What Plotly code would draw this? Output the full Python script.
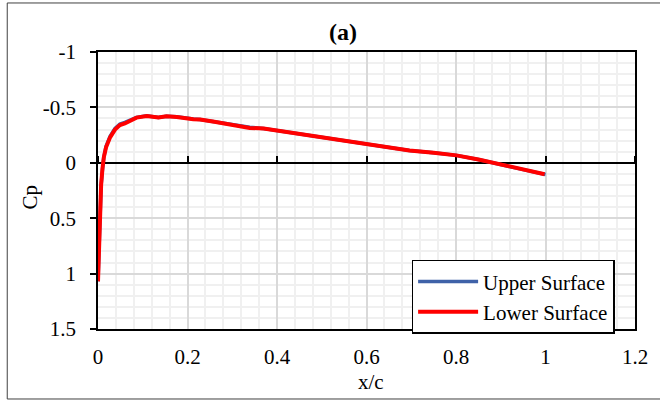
import plotly.graph_objects as go

# ---- data ----
x_upper = [0.0, 0.001, 0.002, 0.004, 0.005, 0.007, 0.010, 0.013, 0.018, 0.027, 0.038, 0.049,
           0.060, 0.071, 0.086, 0.109, 0.135, 0.153, 0.176, 0.213, 0.228, 0.26, 0.302, 0.339,
           0.37, 0.399, 0.451, 0.518, 0.6, 0.696, 0.75, 0.801, 0.85, 0.875, 0.935, 1.0]
cp_upper = [1.07, 0.9, 0.79, 0.49, 0.28, 0.2, 0.06, -0.05, -0.15, -0.24, -0.31, -0.35,
            -0.365, -0.385, -0.41, -0.425, -0.41, -0.42, -0.415, -0.395, -0.39, -0.37, -0.34, -0.32,
            -0.31, -0.293, -0.263, -0.224, -0.173, -0.112, -0.09, -0.067, -0.03, -0.006, 0.048, 0.105]
x_lower = [0.0, 0.001, 0.002, 0.004, 0.005, 0.007, 0.010, 0.013, 0.018, 0.027, 0.038, 0.049,
           0.060, 0.071, 0.086, 0.109, 0.135, 0.153, 0.176, 0.213, 0.228, 0.26, 0.302, 0.339,
           0.37, 0.399, 0.451, 0.518, 0.6, 0.696, 0.75, 0.801, 0.85, 0.875, 0.935, 0.998]
cp_lower = [1.07, 0.9, 0.79, 0.49, 0.28, 0.2, 0.05, -0.05, -0.14, -0.23, -0.30, -0.34,
            -0.355, -0.378, -0.408, -0.423, -0.408, -0.42, -0.414, -0.393, -0.39, -0.37, -0.34, -0.315,
            -0.31, -0.293, -0.263, -0.224, -0.173, -0.112, -0.09, -0.067, -0.03, -0.006, 0.048, 0.103]

x_ticks = [0, 0.2, 0.4, 0.6, 0.8, 1.0, 1.2]
x_tick_labels = ["0", "0.2", "0.4", "0.6", "0.8", "1", "1.2"]
y_ticks = [-1, -0.5, 0, 0.5, 1, 1.5]
y_tick_labels = ["-1", "-0.5", "0", "0.5", "1", "1.5"]

FONT = "Liberation Serif"

fig = go.Figure()
fig.add_trace(go.Scatter(x=x_upper, y=cp_upper, mode="lines", name="Upper Surface",
                         line=dict(color="#3F62A8", width=3.5)))
fig.add_trace(go.Scatter(x=x_lower, y=cp_lower, mode="lines", name="Lower Surface",
                         line=dict(color="#FF0000", width=4)))
# helper trace so the zero-crossing x axis is drawn
fig.add_trace(go.Scatter(x=[], y=[], xaxis="x2", yaxis="y", showlegend=False, hoverinfo="skip"))

fig.update_layout(
    width=660, height=403,
    margin=dict(l=98, r=25, t=52, b=74),
    paper_bgcolor="white", plot_bgcolor="white",
    font=dict(family=FONT, size=21, color="black"),
    xaxis=dict(range=[0, 1.2], tickvals=x_ticks, ticktext=x_tick_labels,
               showgrid=True, gridcolor="#D9D9D9", gridwidth=1.5,
               minor=dict(dtick=0.04, showgrid=True, gridcolor="#F0F0F0", gridwidth=1.5),
               showline=True, mirror=True, linecolor="black", linewidth=1.5,
               ticks="", zeroline=False, ticklabelstandoff=8),
    xaxis2=dict(range=[0, 1.2], overlaying="x", anchor="free", position=0.6, side="top",
                tickvals=x_ticks, ticks="outside", ticklen=6, tickwidth=1.5, tickcolor="black",
                showticklabels=False, showline=True, linecolor="black", linewidth=1.5,
                showgrid=False, zeroline=False, layer="below traces"),
    yaxis=dict(range=[1.5, -1], tickvals=y_ticks, ticktext=y_tick_labels,
               showgrid=True, gridcolor="#D9D9D9", gridwidth=1.5,
               minor=dict(dtick=0.1, showgrid=True, gridcolor="#F0F0F0", gridwidth=1.5),
               showline=True, mirror=True, linecolor="black", linewidth=1.5,
               ticks="outside", ticklen=6, tickwidth=1.5, tickcolor="black",
               zeroline=False, ticklabelstandoff=10),
    legend=dict(x=0.584, y=0.25, xanchor="left", yanchor="top",
                bgcolor="white", bordercolor="black", borderwidth=1.5,
                itemwidth=60, tracegroupgap=0, entrywidth=140,
                font=dict(family=FONT, size=21, color="black")),
    annotations=[
        dict(text="<b>(a)</b>", x=0.457, y=1.074, xref="paper", yref="paper",
             xanchor="center", yanchor="middle",
             showarrow=False, font=dict(family=FONT, size=24, color="black")),
        dict(text="Cp", x=-0.127, y=0.478, xref="paper", yref="paper", textangle=-90,
             xanchor="center", yanchor="middle",
             showarrow=False, font=dict(family=FONT, size=21, color="black")),
        dict(text="x/c", x=0.509, y=-0.19, xref="paper", yref="paper",
             xanchor="center", yanchor="middle",
             showarrow=False, font=dict(family=FONT, size=21, color="black")),
    ],
    shapes=[dict(type="rect", xref="paper", yref="paper", x0=-0.169, x1=1.056,
                 y0=-0.2527, y1=1.177, line=dict(color="#404040", width=1))],
)

fig.write_html("out.html")
